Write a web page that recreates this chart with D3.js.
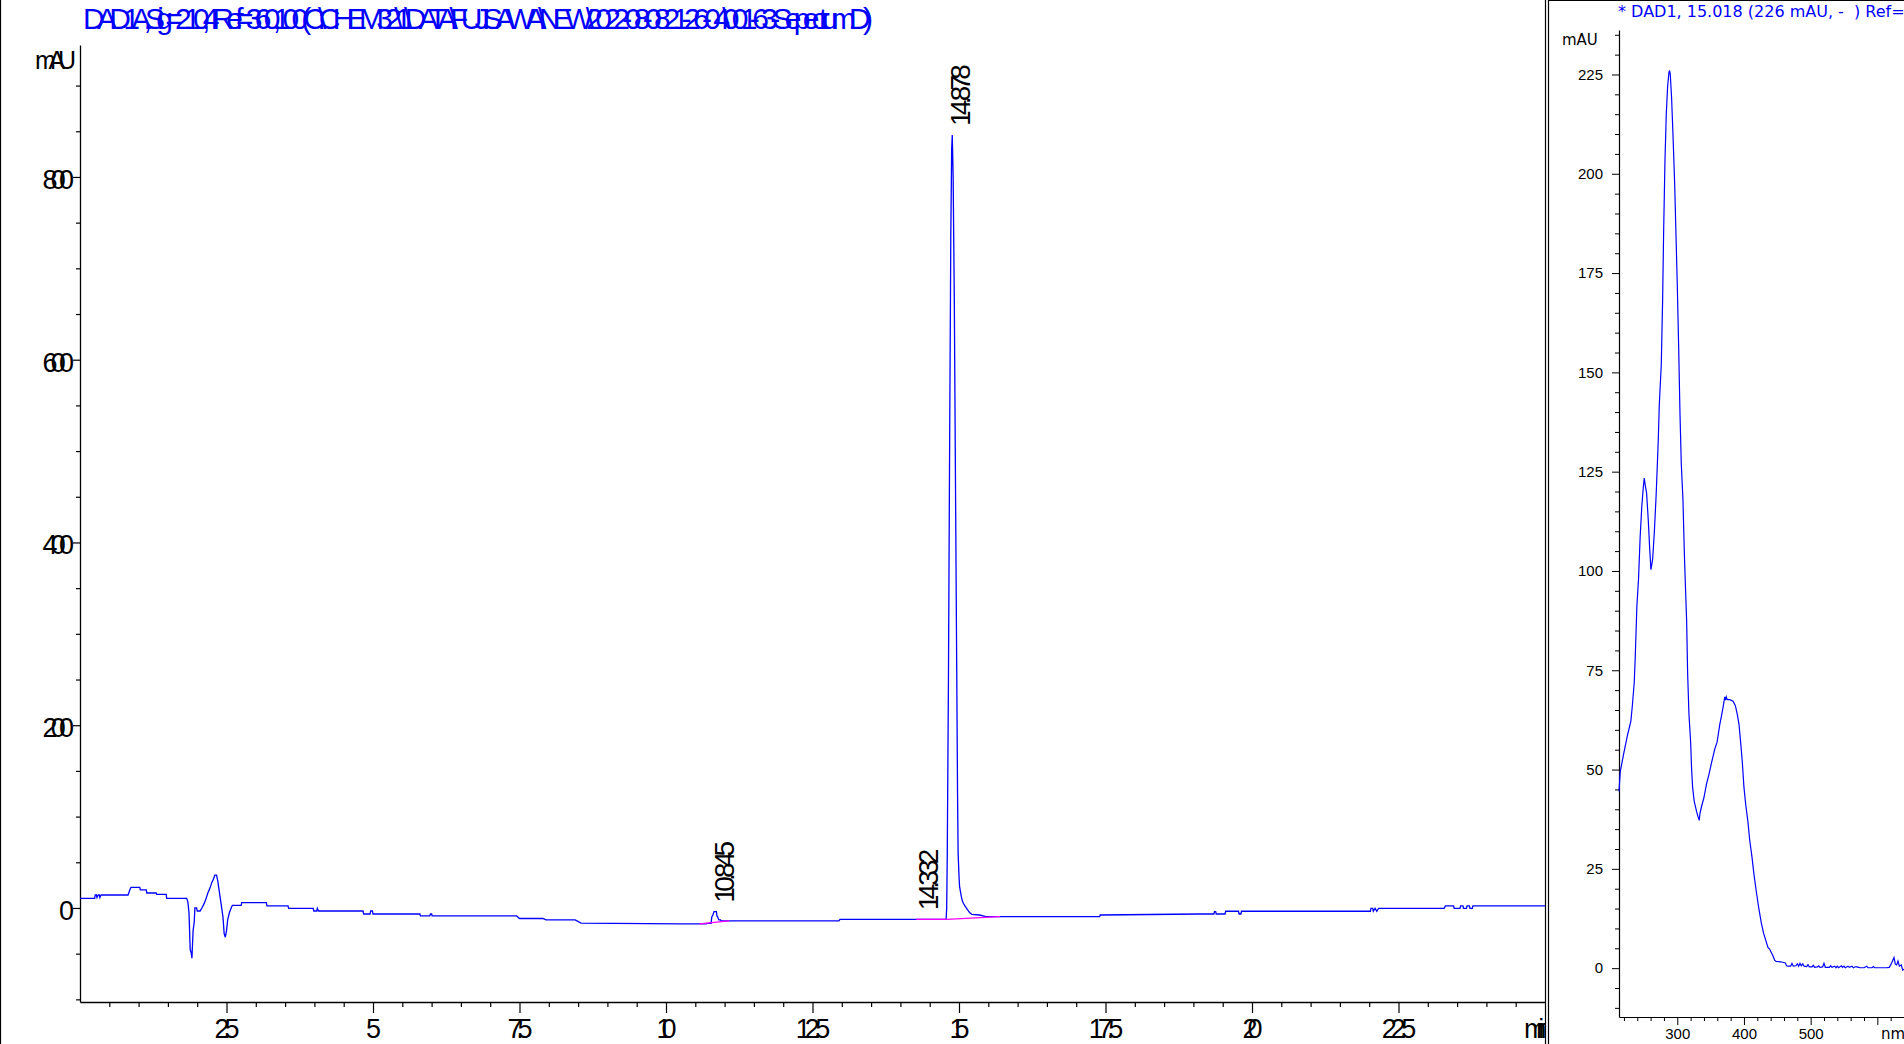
<!DOCTYPE html>
<html><head><meta charset="utf-8">
<script src="https://cdn.jsdelivr.net/npm/d3@7"></script>
<style>
html,body{margin:0;padding:0;background:#fff;overflow:hidden;}
svg{display:block;}
text{font-family:"Liberation Sans",Arial,sans-serif;}
.dv{font-family:"DejaVu Sans",Verdana,sans-serif;}
</style></head><body>
<svg id="c" width="1904" height="1044"></svg>
<script>
// ---------------- DATA ----------------
const chromTitle = "DAD1 A, Sig=210,4 Ref=360,100 (C:\\CHEM32\\1\\DATA\\FUJISAWA\\NEW\\2022-08-08 21-26-04\\001-63-Sepectrum.D)";
const chromTimes = [0,0.25,0.26,0.28,0.29,0.31,0.33,0.34,0.36,0.82,0.85,0.87,1.02,1.03,1.13,1.14,1.30,1.31,1.47,1.48,1.82,1.84,1.86,1.88,1.90,1.91,1.92,1.93,1.95,1.96,1.99,2.00,2.05,2.08,2.12,2.15,2.18,2.22,2.25,2.28,2.30,2.33,2.35,2.40,2.44,2.46,2.48,2.50,2.52,2.55,2.58,2.60,2.75,2.76,3.18,3.19,3.55,3.56,3.98,3.99,4.04,4.05,4.07,4.83,4.84,4.95,4.96,4.99,5.00,5.80,5.81,5.97,5.98,6.00,6.01,7.45,7.50,7.90,7.95,8.45,8.55,10.23,10.69,10.70,10.77,10.78,10.80,10.82,10.86,10.87,10.88,10.90,10.93,10.94,12.95,12.97,14.78,14.79,14.80,14.82,14.84,14.86,14.875,14.885,14.90,14.92,14.94,14.96,14.975,14.985,15.00,15.01,15.04,15.06,15.09,15.13,15.18,15.22,15.35,15.46,15.69,17.40,17.41,19.10,19.35,19.36,19.38,19.39,19.54,19.55,19.77,19.78,19.81,19.82,22.02,22.03,22.06,22.07,22.10,22.13,22.16,23.28,23.30,23.44,23.45,23.55,23.56,23.60,23.61,23.66,23.67,23.71,23.72,23.76,23.77,25.0];
const chromValues = [10.6,10.6,14.2,14.2,11.5,14.2,14.2,11.5,14.2,14.2,19.7,22.6,22.6,19.7,19.7,16.4,16.4,14.9,14.9,10.6,10.6,7,-5,-45,-50,-55,-40,-25,-15,0,0,-3.3,-3.3,0,5,10,16,22,28,32,36,36,30,8,-10,-28,-32,-25,-13,-5,0,2.9,2.9,5.8,5.8,2.2,2.2,-0.4,-0.4,-3.3,-3.3,-0.4,-3.3,-3.3,-6.6,-6.6,-3.3,-3.3,-6.6,-6.6,-8.75,-8.75,-6.6,-6.6,-8.75,-8.75,-11.5,-11.5,-13,-13,-16.5,-17.5,-17.5,-16.8,-16.8,-10,-7.7,-4.0,-4.0,-9,-9.5,-13.1,-13.1,-14.2,-14.2,-12.4,-12.4,0,60,250,505,735,830,846,800,665,465,272,127,60,35,23.3,12.4,7,3.3,-0.4,-5.1,-6.9,-7.7,-9.5,-9.5,-9.5,-7.7,-6.6,-6.6,-4,-4,-6.6,-6.6,-3.6,-3.6,-6.6,-6.6,-3.6,-3.6,-0.4,-0.4,-3.6,-0.4,-3.6,-0.4,-0.4,2.2,2.2,-0.4,-0.4,2.2,2.2,-0.4,-0.4,2.2,2.2,-0.4,-0.4,2.2,2.2];
// integration baselines: [tStart, vStart, tEnd, vEnd]
const baselineSegments = [[10.57,-17.5,11.08,-14.2],[14.27,-12.4,14.79,-12.4],[14.79,-12.4,15.70,-9.5]];
const peakTimes = [10.845, 14.332, 14.878];
const peakLabels = ["10.845", "14.332", "14.878"];
const chromXMajor = [2.5,5,7.5,10,12.5,15,17.5,20,22.5];
const chromXLabels = ["2.5","5","7.5","10","12.5","15","17.5","20","22.5"];
const chromYMajor = [0,200,400,600,800];
const chromYLabels = ["0","200","400","600","800"];

const specTitle = "* DAD1, 15.018 (226 mAU, -  ) Ref=";
const specNm = [212.6,214.5,219.5,225.4,230.4,232.4,235.4,236.9,239.4,241.9,244.3,246.8,249,250.5,252,254,256.5,258.5,260.5,263,265.5,268,269,271.5,273,276,278,279.5,281.5,283.5,285.5,287.5,288.5,289.5,291.5,293.5,296,298,300,302,304,306,308.5,310.5,312,314,315.5,317.5,320,321.5,323,325.4,329,331,332.9,334,336.4,339.9,343.9,347.8,351.3,356.3,359.7,363.7,366.3,368.7,371.2,372.5,373.5,375,378.7,383.6,387.1,390,392.6,395,397.6,400,402.6,406,408.5,412,415,418.5,422.4,426,429.4,433.4,436,438.4,443.3,446,448.3,455,462,464,466,470,472,474,478,480,482,484,486,488,490,494,496,498,502,504,506,510,512,514,518,520,522,528,530,532,536,538,540,542,546,548,550,552,556,558,562,564,568,572,574,580,584,586,592,594,596,614,618,622,625,627,629,631,633,636,638,640];
const specValues = [44.5,49.5,53.9,58.7,62.2,65.7,71.8,77.9,91.1,98,108.5,116.3,121,123.4,121.5,119.6,112.8,106,100.3,102.9,109.5,118,122,133,141.8,152,168,185,203,215,222,225.5,226,225,219,210,198,185,172,157,140,127,118,105,97.2,87.6,74.4,63.9,57,50,45.5,42,39.4,38.2,37.2,39,40.7,42.9,46.4,49,51.7,55.2,56.9,61.3,63.5,65.7,68.3,67.5,68.3,67.6,67.6,67.2,66.1,63.9,61.3,56.9,51.7,45.5,41.2,36.8,32.4,28,23.6,19.3,14.9,11.4,8.8,6.6,5.2,4.8,3.2,2.0,1.7,1.6,1.3,0.6,0.5,0.5,1.2,0.5,0.6,1.1,0.5,1.2,0.6,1.1,0.5,0.4,0.9,0.3,0.3,0.7,0.2,0.3,0.6,0.2,0.3,1.2,0.2,0.2,0.6,0.2,0.5,0.1,0.5,0.1,0.6,0.2,0.5,0.1,0.5,0.2,0.5,0.1,0.4,0.2,0.1,0.1,0.5,0.1,0.1,0.4,0.1,0.1,0.2,1.5,2.7,1.0,0.8,1.8,0.5,0.8,-0.5,-0.3];
const specXMajor = [300,400,500,600];
const specXLabels = ["300","400","500",""];
const specYMajor = [0,25,50,75,100,125,150,175,200,225];
const specYLabels = ["0","25","50","75","100","125","150","175","200","225"];

// ---------------- DRAW ----------------
const svg = d3.select("#c");
const FONT = '"Liberation Sans",Arial,sans-serif';
const DVFONT = '"DejaVu Sans",Verdana,sans-serif';
const blue = "#0000ff";

function squeeze(sel, f){
  sel.each(function(){
    if (this.textContent.length > 1) {
      const L = this.getComputedTextLength();
      this.setAttribute("textLength", (L*f).toFixed(1));
      this.setAttribute("lengthAdjust", "spacing");
    }
  });
}

// panel borders
svg.append("line").attr("x1",0.5).attr("x2",0.5).attr("y1",0).attr("y2",1044).attr("stroke","#000").attr("stroke-width",1.2);
svg.append("line").attr("x1",1545.5).attr("x2",1545.5).attr("y1",0).attr("y2",1044).attr("stroke","#000").attr("stroke-width",1.2);
svg.append("line").attr("x1",1548.5).attr("x2",1548.5).attr("y1",0).attr("y2",1044).attr("stroke","#000").attr("stroke-width",1.2);
svg.append("line").attr("x1",1548).attr("x2",1904).attr("y1",0.5).attr("y2",0.5).attr("stroke","#000").attr("stroke-width",1.2);

// ---- left chromatogram ----
const cx = d3.scaleLinear().domain([0,25]).range([80,1545]);
const cy = d3.scaleLinear().domain([-102.9,944.4]).range([1002,45]);

svg.append("defs").html('<clipPath id="clipL"><rect x="0" y="0" width="1545" height="1044"/></clipPath><clipPath id="clipR"><rect x="1549" y="0" width="355" height="1044"/></clipPath>');
const gL = svg.append("g").attr("clip-path","url(#clipL)");

gL.append("text").attr("x",83).attr("y",29).attr("fill",blue).attr("font-size",30)
  .text(chromTitle).call(s=>s.each(function(){this.setAttribute("textLength",790);this.setAttribute("lengthAdjust","spacing");}));

// y axis
const yMinor = d3.range(-100, 901, 50).filter(v=>!chromYMajor.includes(v));
gL.append("g").attr("transform","translate(80,0)")
  .call(d3.axisLeft(cy).tickValues(yMinor).tickSize(4).tickSizeOuter(0).tickFormat(""))
  .call(g=>g.select(".domain").remove());
const yAx = gL.append("g").attr("transform","translate(80,0)")
  .call(d3.axisLeft(cy).tickValues(chromYMajor).tickSize(7).tickSizeOuter(0).tickPadding(-1).tickFormat((d,i)=>chromYLabels[i]));
yAx.selectAll("text").attr("font-size",27).attr("font-family",FONT).attr("fill","#000").attr("dy","0.42em").call(squeeze,0.7);

// x axis
const xMinor = d3.range(0.5, 25, 0.5).filter(v=>!chromXMajor.includes(v));
gL.append("g").attr("transform","translate(0,1002)")
  .call(d3.axisBottom(cx).tickValues(xMinor).tickSize(5).tickSizeOuter(0).tickFormat(""))
  .call(g=>g.select(".domain").remove());
const xAx = gL.append("g").attr("transform","translate(0,1002)")
  .call(d3.axisBottom(cx).tickValues(chromXMajor).tickSize(11).tickSizeOuter(0).tickFormat((d,i)=>chromXLabels[i]));
xAx.selectAll("text").attr("font-size",27).attr("font-family",FONT).attr("fill","#000").attr("y",36).attr("dy",0).call(squeeze,0.66);
gL.selectAll(".domain").attr("stroke-width",1.3);
gL.selectAll(".tick line").attr("stroke-width",1.2);
gL.append("text").attr("x",cx(25)-21).attr("y",1038).attr("font-size",27).text("min").call(squeeze,0.62);

gL.append("text").attr("x",35).attr("y",69).attr("font-size",25).text("mAU").call(squeeze,0.74);

// trace
const chromData = chromTimes.map((t,i)=>[t, chromValues[i]]);
gL.append("path").datum(chromData)
  .attr("d", d3.line().x(d=>cx(d[0])).y(d=>cy(d[1])))
  .attr("fill","none").attr("stroke",blue).attr("stroke-width",1.3);
// baselines
gL.selectAll("line.bl").data(baselineSegments).join("line").attr("class","bl")
  .attr("x1",d=>cx(d[0])).attr("y1",d=>cy(d[1])).attr("x2",d=>cx(d[2])).attr("y2",d=>cy(d[3]))
  .attr("stroke","#ff00ff").attr("stroke-width",1.3);
// peak labels
function valueNear(t){
  let m=-Infinity; chromData.forEach(d=>{ if (Math.abs(d[0]-t)<=0.02) m=Math.max(m,d[1]); });
  if (m===-Infinity){ const b=d3.bisector(d=>d[0]).left(chromData,t); m=chromData[Math.min(b,chromData.length-1)][1]; }
  return m;
}
gL.selectAll("text.pk").data(peakTimes).join("text").attr("class","pk")
  .attr("transform",d=>`translate(${cx(d)+18},${cy(valueNear(d))-9}) rotate(-90)`)
  .attr("font-size",28).attr("fill","#000").text((d,i)=>peakLabels[i]).call(squeeze,0.72);

// ---- right spectrum ----
const sx = d3.scaleLinear().domain([212.6,640]).range([1619,1904]);
const sy = d3.scaleLinear().domain([-12.3,236.2]).range([1017,30]);
const gR = svg.append("g").attr("clip-path","url(#clipR)");
gR.append("text").attr("class","dv").attr("x",1618).attr("y",17).attr("fill",blue).attr("font-size",16)
  .attr("xml:space","preserve").style("white-space","pre").text(specTitle);
gR.append("text").attr("class","dv").attr("x",1562).attr("y",45).attr("font-size",15).text("mAU");

const syMinor = d3.range(-10, 236, 5).filter(v=>!specYMajor.includes(v));
gR.append("g").attr("transform","translate(1619,0)")
  .call(d3.axisLeft(sy).tickValues(syMinor).tickSize(4).tickSizeOuter(0).tickFormat(""))
  .call(g=>g.select(".domain").remove());
const syAx = gR.append("g").attr("transform","translate(1619,0)")
  .call(d3.axisLeft(sy).tickValues(specYMajor).tickSize(7).tickSizeOuter(0).tickPadding(9).tickFormat((d,i)=>specYLabels[i]));
syAx.selectAll("text").attr("font-size",15).attr("font-family",DVFONT).attr("fill","#000");

const sxMinor = d3.range(220, 640, 20).filter(v=>!specXMajor.includes(v));
gR.append("g").attr("transform","translate(0,1017)")
  .call(d3.axisBottom(sx).tickValues(sxMinor).tickSize(4).tickSizeOuter(0).tickFormat(""))
  .call(g=>g.select(".domain").remove());
const sxAx = gR.append("g").attr("transform","translate(0,1017)")
  .call(d3.axisBottom(sx).tickValues(specXMajor).tickSize(8).tickSizeOuter(0).tickFormat((d,i)=>specXLabels[i]));
sxAx.selectAll("text").attr("font-size",15).attr("font-family",DVFONT).attr("fill","#000").attr("y",22).attr("dy",0);
gR.append("text").attr("class","dv").attr("x",1881).attr("y",1039).attr("font-size",15).text("nm");
gR.selectAll(".domain").attr("stroke-width",1.2);

const specData = specNm.map((n,i)=>[n, specValues[i]]);
gR.append("path").datum(specData)
  .attr("d", d3.line().x(d=>sx(d[0])).y(d=>sy(d[1])))
  .attr("fill","none").attr("stroke",blue).attr("stroke-width",1.2);
</script>
</body></html>
